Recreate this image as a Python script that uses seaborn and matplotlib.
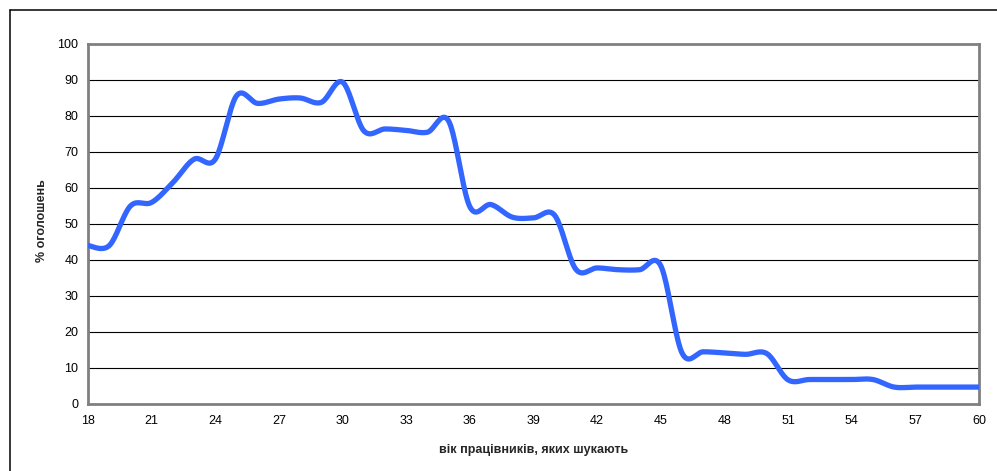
import numpy as np
import pandas as pd
import matplotlib
matplotlib.use("Agg")
import matplotlib.pyplot as plt
import seaborn as sns

ages = list(range(18, 61))
percent = [44, 44, 55, 56, 61.5, 68, 68, 85.6, 83.5, 84.7, 85, 83.8, 89.4,
           75.9, 76.4, 76, 75.5, 78.6, 54.8, 55.4, 51.9, 51.7, 52.4,
           37.4, 37.8, 37.3, 37.3, 38.4, 14.2, 14.5, 14.2, 13.8, 14.0,
           6.7, 6.8, 6.8, 6.8, 6.8, 4.7, 4.7, 4.7, 4.7, 4.7]
xticks = list(range(18, 61, 3))
yticks = list(range(0, 101, 10))
xlabel = "вік працівників, яких шукають"
ylabel = "% оголошень"


def smooth(xs, ys, n=20):
    # Excel-style smoothed line (Catmull-Rom Bezier)
    P = np.column_stack([xs, ys]).astype(float)
    ext = np.vstack([P[0], P, P[-1]])
    out = []
    t = np.linspace(0, 1, n, endpoint=False)[:, None]
    for i in range(1, len(ext) - 2):
        p0, p1, p2, p3 = ext[i - 1], ext[i], ext[i + 1], ext[i + 2]
        c1 = p1 + (p2 - p0) / 6
        c2 = p2 - (p3 - p1) / 6
        seg = ((1 - t) ** 3) * p1 + 3 * ((1 - t) ** 2) * t * c1 + 3 * (1 - t) * t ** 2 * c2 + t ** 3 * p2
        out.append(seg)
    out.append(P[-1][None, :])
    return np.vstack(out)


sns.set_style("white")
plt.rcParams['font.family'] = ['Liberation Sans', 'DejaVu Sans']

fig = plt.figure(figsize=(9.97, 4.71), dpi=100)
ax = fig.add_axes([88 / 997, 67 / 471, 891 / 997, 360 / 471])

curve = smooth(ages, percent)
df = pd.DataFrame({"x": curve[:, 0], "y": curve[:, 1]})
sns.lineplot(data=df, x="x", y="y", sort=False, color="#3366FF", linewidth=3.8,
             ax=ax, zorder=5, solid_capstyle="round", solid_joinstyle="round")

ax.set_xlim(18, 60)
ax.set_ylim(0, 100)
ax.set_xticks(xticks)
ax.set_yticks(yticks)
ax.tick_params(axis="both", labelsize=9, length=4, width=1, color="#000000",
               direction="out", pad=3)
ax.tick_params(axis="x", pad=4)
for tl in ax.get_xticklabels() + ax.get_yticklabels():
    tl.set_color("#000000")

ax.grid(axis="y", color="#000000", linewidth=0.8)
ax.grid(axis="x", visible=False)
ax.set_axisbelow(True)
for s in ax.spines.values():
    s.set_visible(True)
    s.set_color("#808080")
    s.set_linewidth(2)

ax.set_xlabel(xlabel, fontsize=9, fontweight="bold", labelpad=12)
ax.set_ylabel(ylabel, fontsize=9, fontweight="bold")
ax.yaxis.set_label_coords(-0.045, 0.51)

# outer chart border (partially visible)
fig.add_artist(plt.Line2D([10 / 997, 1.0], [1 - 9.5 / 471, 1 - 9.5 / 471],
                          color="black", linewidth=1.1, transform=fig.transFigure))
fig.add_artist(plt.Line2D([10 / 997, 10 / 997], [0, 1 - 9.5 / 471],
                          color="black", linewidth=1.1, transform=fig.transFigure))

fig.savefig("out.png", dpi=100)
